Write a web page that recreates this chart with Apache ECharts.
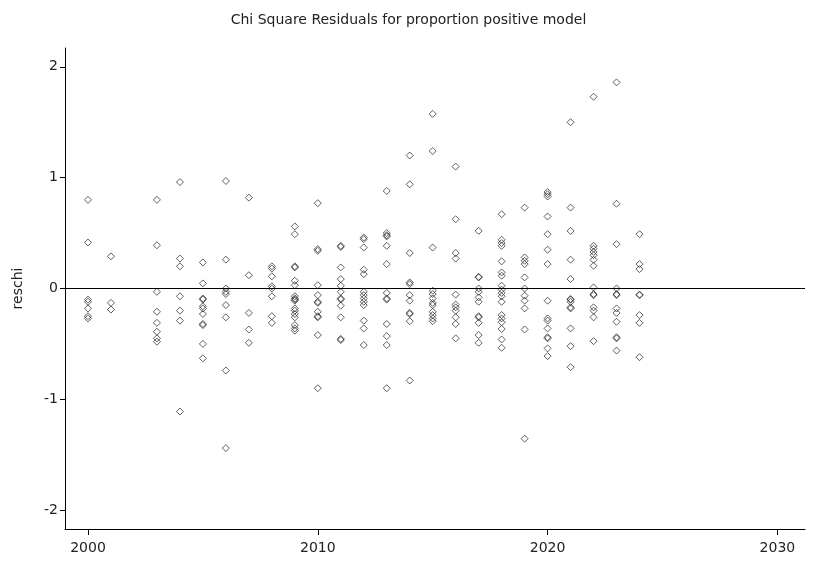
<!DOCTYPE html>
<html><head><meta charset="utf-8">
<script src="https://cdn.jsdelivr.net/npm/echarts@6/dist/echarts.min.js"></script>
<style>html,body{margin:0;padding:0;background:#fff}#c{width:817px;height:563px}</style>
</head><body><div id="c"></div>
<script>
const title = 'Chi Square Residuals for proportion positive model';
const yName = 'reschi';
const xTicks = [2000, 2010, 2020, 2030];
const yTicks = [-2, -1, 0, 1, 2];
const years = [2000, 2001, 2003, 2004, 2005, 2006, 2007, 2008, 2009, 2010, 2011, 2012,
  2013, 2014, 2015, 2016, 2017, 2018, 2019, 2020, 2021, 2022, 2023, 2024];
const reschi = [
  [0.80, 0.415, -0.10, -0.12, -0.18, -0.25, -0.27],
  [0.29, -0.13, -0.19],
  [0.80, 0.39, -0.03, -0.21, -0.31, -0.39, -0.45, -0.48],
  [0.96, 0.27, 0.20, -0.07, -0.20, -0.29, -1.11],
  [0.235, 0.046, -0.09, -0.10, -0.16, -0.18, -0.23, -0.32, -0.33, -0.50, -0.63],
  [0.97, 0.26, 0.0, -0.03, -0.05, -0.15, -0.26, -0.74, -1.44],
  [0.82, 0.12, -0.22, -0.37, -0.49],
  [0.20, 0.18, 0.11, 0.02, 0.0, -0.07, -0.25, -0.31],
  [0.56, 0.49, 0.20, 0.19, 0.07, 0.03, -0.07, -0.09, -0.10, -0.11, -0.18, -0.20, -0.23, -0.26, -0.33, -0.36, -0.38],
  [0.77, 0.355, 0.34, 0.03, -0.06, -0.12, -0.13, -0.21, -0.25, -0.26, -0.42, -0.90],
  [0.385, 0.375, 0.19, 0.085, 0.025, -0.03, -0.09, -0.10, -0.155, -0.26, -0.455, -0.465],
  [0.46, 0.445, 0.37, 0.17, 0.13, -0.03, -0.06, -0.09, -0.12, -0.15, -0.29, -0.36, -0.51],
  [0.88, 0.50, 0.48, 0.47, 0.385, 0.22, -0.04, -0.09, -0.10, -0.32, -0.43, -0.51, -0.90],
  [1.20, 0.94, 0.32, 0.055, 0.04, -0.06, -0.11, -0.22, -0.23, -0.295, -0.83],
  [1.575, 1.24, 0.37, -0.02, -0.05, -0.09, -0.13, -0.15, -0.21, -0.24, -0.27, -0.295],
  [1.10, 0.625, 0.32, 0.27, -0.055, -0.145, -0.17, -0.20, -0.26, -0.32, -0.45],
  [0.52, 0.105, 0.10, 0.0, -0.03, -0.08, -0.12, -0.25, -0.26, -0.31, -0.42, -0.49],
  [0.67, 0.44, 0.41, 0.385, 0.245, 0.145, 0.115, 0.025, -0.01, -0.04, -0.07, -0.12, -0.24, -0.27, -0.305, -0.365, -0.46, -0.535],
  [0.73, 0.28, 0.25, 0.22, 0.10, 0.0, -0.065, -0.11, -0.18, -0.37, -1.355],
  [0.87, 0.85, 0.83, 0.65, 0.49, 0.35, 0.22, -0.11, -0.27, -0.29, -0.36, -0.44, -0.45, -0.54, -0.61],
  [1.50, 0.73, 0.52, 0.26, 0.085, -0.095, -0.10, -0.12, -0.17, -0.18, -0.36, -0.52, -0.71],
  [1.73, 0.385, 0.36, 0.33, 0.30, 0.26, 0.205, 0.01, -0.05, -0.06, -0.17, -0.20, -0.26, -0.475],
  [1.86, 0.765, 0.40, 0.0, -0.05, -0.06, -0.18, -0.22, -0.30, -0.44, -0.45, -0.56],
  [0.49, 0.22, 0.175, -0.055, -0.06, -0.24, -0.31, -0.62]
];

const points = [];
years.forEach((yr, i) => reschi[i].forEach(v => points.push([yr, v])));

const font = '"DejaVu Sans", Verdana, sans-serif';
const chart = echarts.init(document.getElementById('c'), null, {renderer: 'canvas'});
chart.setOption({
  backgroundColor: '#fff',
  animation: false,
  title: {
    text: title, left: 'center', top: 8,
    textStyle: {fontFamily: font, fontSize: 14, fontWeight: 'normal', color: '#222'}
  },
  grid: {left: 65, right: 12, top: 48, bottom: 34},
  xAxis: {
    type: 'value', min: 1999, max: 2031.2,
    splitLine: {show: false},
    axisLine: {show: true, onZero: false, lineStyle: {color: '#000', width: 1}},
    axisTick: {show: true, length: 6, lineStyle: {color: '#000'}, customValues: xTicks},
    axisLabel: {customValues: xTicks, color: '#222', fontFamily: font, fontSize: 14, margin: 12,
      formatter: v => String(v)}
  },
  yAxis: {
    type: 'value', min: -2.17, max: 2.17,
    name: yName, nameLocation: 'middle', nameGap: 40, nameRotate: 90,
    nameTextStyle: {fontFamily: font, fontSize: 14, color: '#222'},
    splitLine: {show: false},
    axisLine: {show: true, onZero: false, lineStyle: {color: '#000', width: 1}},
    axisTick: {show: true, length: 5, lineStyle: {color: '#000'}, customValues: yTicks},
    axisLabel: {customValues: yTicks, color: '#222', fontFamily: font, fontSize: 14, margin: 7,
      formatter: v => String(v)}
  },
  series: [{
    type: 'scatter',
    data: points,
    symbol: 'diamond',
    symbolSize: 7,
    itemStyle: {color: 'rgba(0,0,0,0)', borderColor: '#222', borderWidth: 0.9},
    markLine: {
      silent: true, symbol: ['none', 'none'], label: {show: false},
      lineStyle: {color: '#000', width: 1, type: 'solid'},
      data: [{yAxis: 0}]
    }
  }]
});
</script></body></html>
